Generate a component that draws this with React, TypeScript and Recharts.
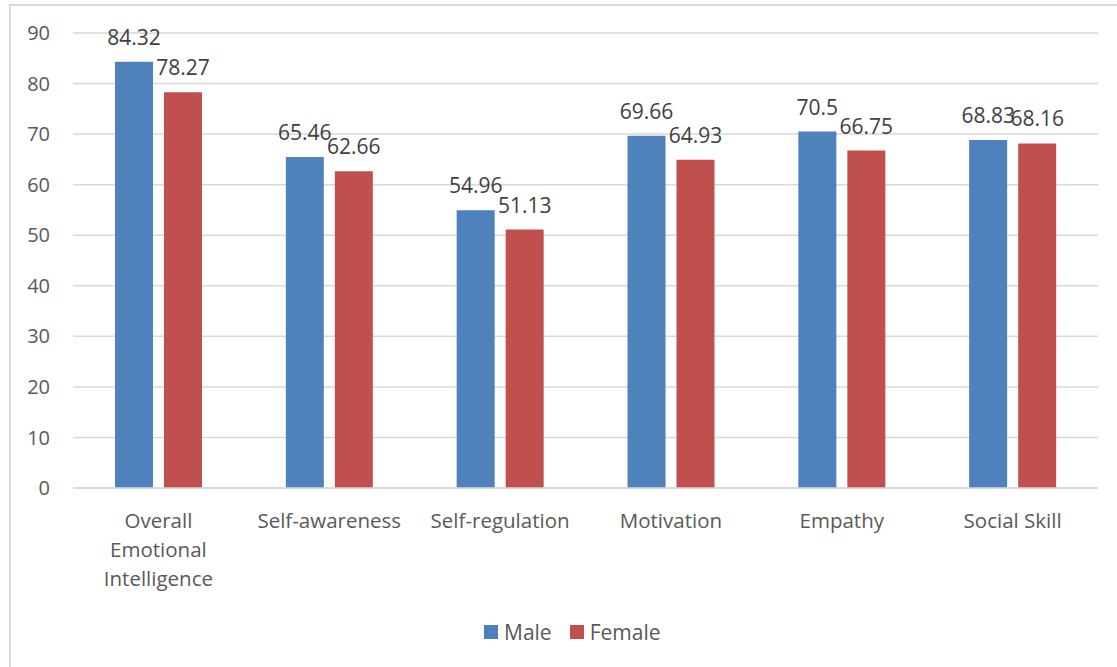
import React from "react";
import { BarChart, Bar, XAxis, YAxis, CartesianGrid, Legend, LabelList } from "recharts";

const categories = [
  "Overall Emotional Intelligence",
  "Self-awareness",
  "Self-regulation",
  "Motivation",
  "Empathy",
  "Social Skill",
];
const categoryLines: string[][] = [
  ["Overall", "Emotional", "Intelligence"],
  ["Self-awareness"],
  ["Self-regulation"],
  ["Motivation"],
  ["Empathy"],
  ["Social Skill"],
];
const maleValues = [84.32, 65.46, 54.96, 69.66, 70.5, 68.83];
const femaleValues = [78.27, 62.66, 51.13, 64.93, 66.75, 68.16];
const yTicks = [0, 10, 20, 30, 40, 50, 60, 70, 80, 90];

const data = categories.map((c, i) => ({
  name: c,
  idx: i,
  Male: maleValues[i],
  Female: femaleValues[i],
}));

const FONT = "'Open Sans', 'DejaVu Sans', sans-serif";

const CategoryTick = (props: any) => {
  const { x, y, payload } = props;
  const i = categories.indexOf(payload.value);
  const lines = i >= 0 ? categoryLines[i] : [String(payload.value)];
  return (
    <text x={x} y={y} textAnchor="middle" fill="#595959" fontSize={20.5} fontFamily={FONT}>
      {lines.map((l, k) => (
        <tspan key={k} x={x} y={y + 32 + k * 29}>
          {l}
        </tspan>
      ))}
    </text>
  );
};

const LegendContent = () => (
  <div style={{ display: "flex", alignItems: "center", fontFamily: FONT, fontSize: 21, color: "#595959", lineHeight: "26px" }}>
    <span style={{ width: 14, height: 14, background: "#4F81BD", display: "inline-block", marginRight: 6 }} />
    <span style={{ marginRight: 18 }}>Male</span>
    <span style={{ width: 14, height: 14, background: "#C0504D", display: "inline-block", marginRight: 6 }} />
    <span>Female</span>
  </div>
);

export default function App() {
  return (
    <div style={{ position: "absolute", left: 0, top: 0, width: 1117, height: 667, background: "#fff", overflow: "hidden" }}>
      <div
        style={{
          position: "absolute",
          left: 9,
          top: 4,
          width: 1300,
          height: 800,
          borderLeft: "2px solid #d9d9d9",
          borderTop: "2px solid #d9d9d9",
        }}
      />
      <div style={{ position: "absolute", left: 0, top: 0 }}>
        <BarChart
          width={1117}
          height={667}
          data={data}
          margin={{ top: 33, right: 19, bottom: 0, left: 0 }}
          barSize={38}
          barGap={11}
        >
          <CartesianGrid vertical={false} stroke="#d9d9d9" strokeWidth={1.5} />
          <XAxis
            dataKey="name"
            height={153}
            axisLine={{ stroke: "#d9d9d9", strokeWidth: 1.5 }}
            tickLine={false}
            interval={0}
            tick={<CategoryTick />}
          />
          <YAxis
            width={73}
            domain={[0, 90]}
            ticks={yTicks}
            axisLine={false}
            tickLine={false}
            tickSize={0}
            tickMargin={23}
            tick={{ fill: "#595959", fontSize: 20, fontFamily: FONT }}
          />
          <Legend
            content={<LegendContent />}
            wrapperStyle={{ position: "absolute", left: 484, top: 619, width: "auto", bottom: "auto" }}
          />
          <Bar dataKey="Male" fill="#4F81BD" isAnimationActive={false}>
            <LabelList dataKey="Male" position="top" offset={17} fill="#404040" fontSize={21} fontFamily={FONT} />
          </Bar>
          <Bar dataKey="Female" fill="#C0504D" isAnimationActive={false}>
            <LabelList dataKey="Female" position="top" offset={17} fill="#404040" fontSize={21} fontFamily={FONT} />
          </Bar>
        </BarChart>
      </div>
    </div>
  );
}
